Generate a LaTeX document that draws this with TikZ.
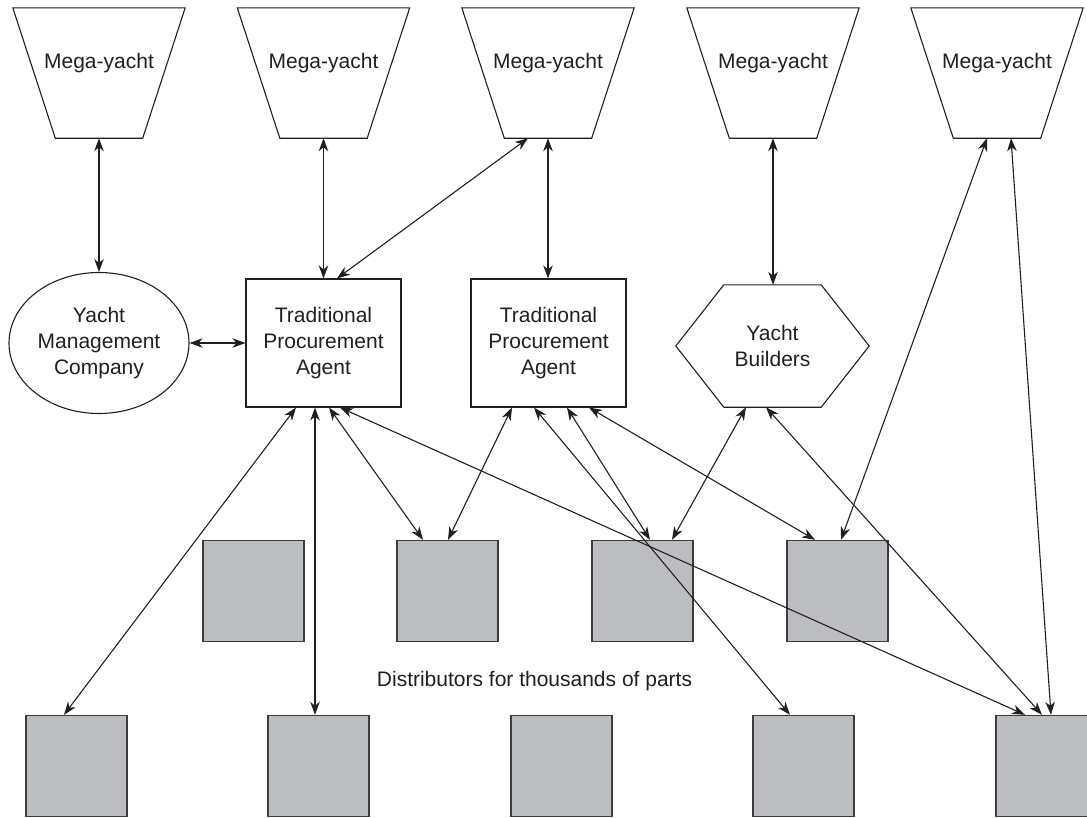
\documentclass[tikz,border=0pt]{standalone}
\usepackage{fontspec}
\setmainfont{Liberation Sans}
\usetikzlibrary{arrows.meta,shapes.geometric}
\definecolor{ink}{HTML}{231F20}
\definecolor{distfill}{HTML}{BCBDC1}
\definecolor{distedge}{HTML}{3C3C3E}

\begin{document}
\begin{tikzpicture}[x=1pt,y=-1pt,
  every node/.style={font=\fontsize{21}{26}\selectfont, text=ink},
  outline/.style={draw=ink, line width=1.1pt},
  yachtframe/.style={minimum width=172pt, minimum height=130pt, inner sep=0pt},
  agentbox/.style={outline, minimum width=155pt, minimum height=128pt, align=center, inner sep=0pt},
  mgmt/.style={outline, ellipse, minimum width=180pt, minimum height=141pt, align=center, inner xsep=-8pt, inner ysep=0pt},
  builderframe/.style={minimum width=193pt, minimum height=122pt, align=center, inner sep=0pt},
  distbox/.style={draw=distedge, fill=distfill, line width=1.4pt, minimum size=101pt, inner sep=0pt},
  link/.style={draw=ink, line width=1.1pt, {Stealth[length=13pt,width=9.5pt,inset=4pt]}-{Stealth[length=13pt,width=9.5pt,inset=4pt]}},
]
\useasboundingbox (0,0) rectangle (1087,817);

% mega-yachts (inverted trapezoids)
\foreach \i/\cx in {1/99,2/323.5,3/548,4/773,5/997} {
  \node[yachtframe] (my\i) at (\cx,73) {};
  \draw[outline] (my\i.north west) -- (my\i.north east)
    -- ([xshift=-42.5pt]my\i.south east) -- ([xshift=42.5pt]my\i.south west) -- cycle;
  \node at ([yshift=10pt]my\i.center) {Mega-yacht};
}

% middle tier
\node[mgmt] (ymc) at (99,343) {Yacht\\Management\\Company};
\node[agentbox] (tpa1) at (323.5,343) {Traditional\\Procurement\\Agent};
\node[agentbox] (tpa2) at (548.5,343) {Traditional\\Procurement\\Agent};
\node[builderframe] (yb) at (772.5,346) {Yacht\\Builders};
\draw[outline] (yb.west) -- ([xshift=48pt]yb.north west) -- ([xshift=-48pt]yb.north east)
  -- (yb.east) -- ([xshift=-48pt]yb.south east) -- ([xshift=48pt]yb.south west) -- cycle;

% distributors
\foreach \i/\cx in {1/253.5,2/447.5,3/642.5,4/837.5}
  \node[distbox] (u\i) at (\cx,591) {};
\foreach \i/\cx in {1/76.5,2/318.5,3/561.5,4/803.5,5/1046.5}
  \node[distbox] (l\i) at (\cx,766) {};
\node (cap) at (534.5,681) {Distributors for thousands of parts};

% yachts to middle tier
\draw[link] (my1.south) -- (ymc.north);
\draw[link] (my2.south) -- (tpa1.north);
\draw[link] ([xshift=13.5pt]tpa1.north) -- ([xshift=-20pt]my3.south);
\draw[link] (my3.south) -- (my3.south |- tpa2.north);
\draw[link] (my4.south) -- (my4.south |- yb.north);
\draw[link] (ymc.east) -- (tpa1.west);

% middle tier to distributors
\draw[link] ([xshift=-27.5pt]tpa1.south) -- ([xshift=-12.5pt]l1.north);
\draw[link] ([xshift=-8.5pt]tpa1.south) -- ([xshift=-3.5pt]l2.north);
\draw[link] ([xshift=5.5pt]tpa1.south) -- ([xshift=-24.5pt]u2.north);
\draw[link] ([xshift=16.5pt]tpa1.south) -- ([xshift=-21.5pt]l5.north);
\draw[link] ([xshift=-36.5pt]tpa2.south) -- ([xshift=0.5pt]u2.north);
\draw[link] ([xshift=-14.5pt]tpa2.south) -- ([xshift=-13.5pt]l4.north);
\draw[link] ([xshift=18.5pt]tpa2.south) -- ([xshift=7.5pt]u3.north);
\draw[link] ([xshift=40.5pt]tpa2.south) -- ([xshift=-22.5pt]u4.north);
\draw[link] ([xshift=-26.5pt]yb.south) -- ([xshift=29.5pt]u3.north);
\draw[link] ([xshift=-6.5pt]yb.south) -- ([xshift=-4.5pt]l5.north);

% direct yacht links
\draw[link] ([xshift=-10pt]my5.south) -- ([xshift=3.5pt]u4.north);
\draw[link] ([xshift=14pt]my5.south) -- ([xshift=4.5pt]l5.north);
\end{tikzpicture}
\end{document}
